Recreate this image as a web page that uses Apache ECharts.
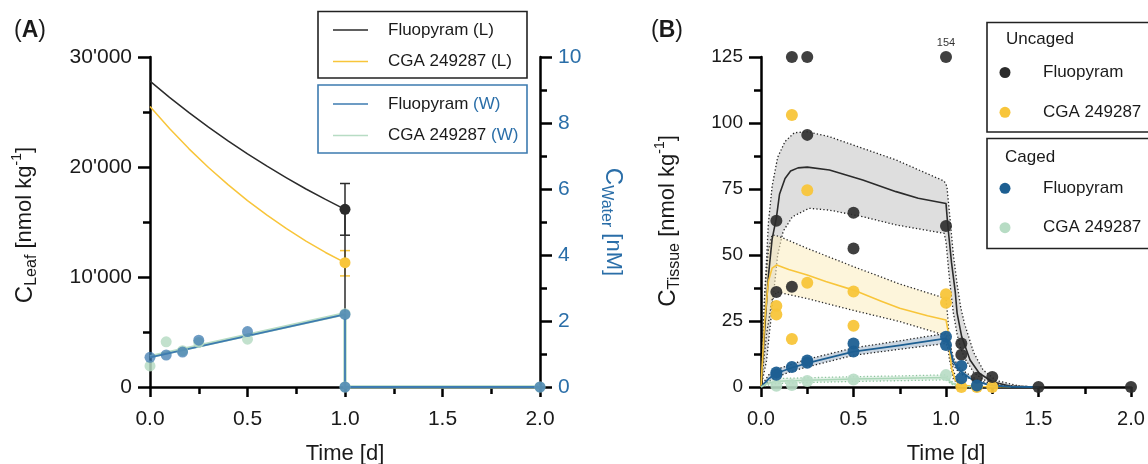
<!DOCTYPE html>
<html><head><meta charset="utf-8">
<script src="https://cdn.jsdelivr.net/npm/echarts@6/dist/echarts.min.js"></script>
<style>html,body{margin:0;padding:0;background:#fff}#c{width:1148px;height:464px}</style>
</head><body><div id="c"></div>
<script>
// ---------------- Panel A data ----------------
const leafFluoTime = [0, 0.1, 0.2, 0.3, 0.4, 0.5, 0.6, 0.7, 0.8, 0.9, 1.0, 1.0, 2.0];
const leafFluopyram = [27800, 26330, 24940, 23620, 22370, 21190, 20070, 19010, 18000, 17050, 16150, 0, 0];
const leafCGATime = [0, 0.1, 0.2, 0.3, 0.4, 0.5, 0.6, 0.7, 0.8, 0.9, 1.0];
const leafCGA = [25500, 23500, 21650, 19950, 18400, 16950, 15620, 14400, 13270, 12230, 11300];
const leafPointTime = [1.0];
const leafFluoMean = [16150];
const leafCGAMean = [11300];
const leafFluoErrLow = [13800];
const leafFluoErrHigh = [18500];
const leafCGAErrLow = [10100];
const leafCGAErrHigh = [12400];

const waterLineTime = [0, 1.0, 1.0, 2.0];
const waterFluoLine = [0.9, 2.2, 0, 0];
const waterCGALine = [0.92, 2.22, 0, 0];
const waterPtsTime = [0, 0.083, 0.167, 0.25, 0.5, 1.0, 1.0, 2.0];
const waterFluoPts = [0.9, 0.97, 1.06, 1.42, 1.68, 2.2, 0, 0];
const waterCGAPts = [0.64, 1.37, 1.1, 1.35, 1.45, 2.22, 0, 0];

const leafTicks = [0, 10000, 20000, 30000];

// ---------------- Panel B data ----------------
const uncFTime  = [0, 0.02, 0.04, 0.06, 0.083, 0.1, 0.13, 0.16, 0.2, 0.25, 0.37, 0.55, 0.73, 0.85, 1.0, 1.01, 1.03, 1.05, 1.06, 1.085, 1.13, 1.18, 1.25, 1.35, 1.5];
const uncFModel = [0, 22, 42, 56, 64, 73, 79, 81.8, 83, 83.3, 82.2, 78.4, 74, 71.5, 69.5, 61, 47, 36, 28, 19, 10.2, 5.2, 2, 0.3, 0];
const uncFUpTime = [0, 0.02, 0.04, 0.06, 0.09, 0.13, 0.18, 0.25, 0.37, 0.55, 0.73, 0.99, 1.005, 1.02, 1.04, 1.06, 1.08, 1.1, 1.15, 1.2, 1.27, 1.4, 1.5];
const uncFUpper  = [0, 35, 62, 76, 87, 93, 96.3, 96.7, 94.8, 90.4, 86, 78, 76, 65, 50, 39, 30, 24, 13, 6.5, 2.5, 0.3, 0];
const uncFLoTime = [0, 0.03, 0.06, 0.09, 0.12, 0.17, 0.26, 0.37, 0.55, 0.73, 0.99, 1.0, 1.02, 1.04, 1.06, 1.08, 1.1, 1.15, 1.2, 1.3, 1.4];
const uncFLower  = [0, 10, 30, 50, 59, 64.5, 67.7, 67, 64.5, 61.4, 58.2, 55, 40, 28, 20, 14.5, 11, 5.5, 2.8, 0.6, 0];

const uncCTime  = [0, 0.02, 0.04, 0.06, 0.085, 0.15, 0.25, 0.35, 0.5, 0.65, 0.75, 0.9, 1.0, 1.01, 1.02, 1.03, 1.05, 1.08, 1.15, 1.35];
const uncCModel = [0, 25, 40, 45, 46.2, 44.5, 42.4, 40, 36.7, 32.5, 29.8, 27, 25.4, 21.6, 14, 7, 2.5, 0.8, 0.2, 0];
const uncCUpTime = [0, 0.02, 0.04, 0.06, 0.1, 0.25, 0.5, 0.75, 1.0, 1.01, 1.02, 1.04, 1.07, 1.12, 1.3];
const uncCUpper  = [0, 35, 52, 57.6, 57, 52.5, 45.6, 39, 33.5, 26, 16, 6, 1.5, 0.3, 0];
const uncCLoTime = [0, 0.03, 0.06, 0.085, 0.25, 0.5, 0.75, 1.0, 1.01, 1.02, 1.04, 1.07, 1.12, 1.3];
const uncCLower  = [0, 20, 33, 36, 33.5, 29, 24.8, 19.5, 15, 10, 3, 0.8, 0.1, 0];

const cagFTime  = [0, 0.04, 0.083, 0.167, 0.25, 0.5, 0.75, 1.0, 1.02, 1.04, 1.07, 1.094, 1.13, 1.166, 1.25, 1.35, 1.5];
const cagFModel = [0, 3, 5.2, 7.3, 9, 13.4, 15.8, 18.4, 15, 9.6, 6.5, 5.2, 3.3, 2, 0.5, 0.1, 0];
const cagFBandTime = [0, 0.04, 0.083, 0.167, 0.25, 0.5, 0.75, 1.0, 1.02, 1.04, 1.07, 1.1, 1.15, 1.2, 1.3, 1.5];
const cagFUpper = [0, 4.5, 6.6, 8.7, 10.5, 14.8, 17.5, 20.3, 17, 11, 7.5, 5.8, 3.5, 2, 0.6, 0];
const cagFLower = [0, 2, 3.8, 6, 7.6, 12, 14.3, 16.5, 13, 8.2, 5.5, 4.2, 2.5, 1.4, 0.3, 0];

const cagCTime  = [0, 0.03, 0.083, 0.25, 0.5, 0.75, 1.0, 1.03, 1.06, 1.1, 1.2];
const cagCModel = [0, 1.2, 2.2, 2.6, 3, 3.3, 3.6, 1.5, 0.6, 0.2, 0];
const cagCUpper = [0, 2, 3.2, 3.5, 3.9, 4.2, 4.6, 2.2, 0.9, 0.3, 0];
const cagCLower = [0, 0.6, 1.3, 1.7, 2.1, 2.4, 2.7, 1, 0.4, 0.1, 0];

const uncFPtTime = [0.083, 0.083, 0.167, 0.167, 0.25, 0.25, 0.5, 0.5, 1.0, 1.0, 1.083, 1.083, 1.167, 1.25, 1.5, 2.0];
const uncFPts    = [63, 36, 125, 38, 125, 95.5, 66, 52.5, 125, 61, 16.5, 12.2, 3.5, 3.8, 0, 0];
const uncFOffscaleIndex = 8;
const uncFOffscaleText = '154';
const uncCPtTime = [0.083, 0.083, 0.167, 0.167, 0.25, 0.25, 0.5, 0.5, 1.0, 1.0, 1.083, 1.167, 1.25];
const uncCPts    = [30.7, 27.5, 103, 18.2, 74.5, 39.5, 36.2, 23.2, 35.1, 31.9, 0, 0, 0];
const cagFPtTime = [0.083, 0.083, 0.167, 0.25, 0.25, 0.5, 0.5, 1.0, 1.0, 1.083, 1.083, 1.167];
const cagFPts    = [5.5, 4.6, 7.6, 10, 9.2, 16.5, 13.4, 19, 15.9, 8, 3.3, 0.6];
const cagCPtTime = [0.083, 0.167, 0.25, 0.5, 1.0];
const cagCPts    = [0.5, 0.8, 2.3, 2.8, 4.5];

// ---------------- styling ----------------
const FONT = "'Liberation Sans', Arial, Helvetica, sans-serif";
const TXT = '#1a1a1a';
const BLACK = '#2b2b2b';
const YELLOW = '#f8c53a';
const BLUE_A = '#3d7bb0';
const GREEN = '#b7dcc4';
const BLUE_B = '#1d5f92';
const WATER_TXT = '#2a6ea8';

const pairs = (t, v) => t.map((x, i) => [x, v[i]]);

function xAxisDef(grid, fs) {
  return {
    gridIndex: grid, type: 'value', min: 0, max: 2, interval: 0.5,
    axisLine: { show: true, onZero: false, lineStyle: { color: '#000', width: 2.5 } },
    axisTick: { show: true, length: 10, lineStyle: { color: '#000', width: 2.5 } },
    minorTick: { show: true, splitNumber: 2, length: 7, lineStyle: { color: '#000', width: 2.5 } },
    splitLine: { show: false }, minorSplitLine: { show: false },
    axisLabel: { fontSize: fs, color: TXT, fontFamily: FONT, margin: 22, formatter: v => v.toFixed(1) },
    name: 'Time [d]', nameLocation: 'middle', nameGap: 56,
    nameTextStyle: { fontSize: 22, color: TXT, fontFamily: FONT }
  };
}
function yAxisDef(grid, min, max, interval, fs, color, pos, fmt) {
  return {
    gridIndex: grid, type: 'value', min, max, interval, position: pos,
    axisLine: { show: true, onZero: false, lineStyle: { color: '#000', width: 2.5 } },
    axisTick: { show: true, length: 12, lineStyle: { color: '#000', width: 2.5 } },
    minorTick: { show: true, splitNumber: 2, length: 7, lineStyle: { color: '#000', width: 2.5 } },
    splitLine: { show: false }, minorSplitLine: { show: false },
    axisLabel: { fontSize: fs, color, fontFamily: FONT, margin: 18, formatter: fmt }
  };
}

function band(xi, yi, upT, up, loT, lo, fill, stroke, z) {
  return {
    type: 'custom', xAxisIndex: xi, yAxisIndex: yi, silent: true, z,
    data: pairs(upT, up),
    renderItem: (params, api) => {
      if (params.dataIndex !== 0) return null;
      const pts = upT.map((t, i) => api.coord([t, up[i]]));
      for (let i = loT.length - 1; i >= 0; i--) pts.push(api.coord([loT[i], lo[i]]));
      return { type: 'polygon', shape: { points: pts },
        style: { fill, stroke, lineWidth: 1.3, lineDash: [1.3, 2.2] } };
    }
  };
}
function errBar(xi, yi, t, lo, hi, color) {
  return {
    type: 'custom', xAxisIndex: xi, yAxisIndex: yi, silent: true, z: 3,
    encode: { x: 0, y: [1, 2] },
    data: t.map((x, i) => [x, lo[i], hi[i]]),
    renderItem: (params, api) => {
      const a = api.coord([api.value(0), api.value(1)]);
      const b = api.coord([api.value(0), api.value(2)]);
      const cap = 5, st = { stroke: color, lineWidth: 1.5 };
      return { type: 'group', children: [
        { type: 'line', shape: { x1: a[0], y1: a[1], x2: b[0], y2: b[1] }, style: st },
        { type: 'line', shape: { x1: a[0] - cap, y1: a[1], x2: a[0] + cap, y2: a[1] }, style: st },
        { type: 'line', shape: { x1: b[0] - cap, y1: b[1], x2: b[0] + cap, y2: b[1] }, style: st }
      ] };
    }
  };
}
function line(xi, yi, t, v, color, w, z) {
  return { type: 'line', xAxisIndex: xi, yAxisIndex: yi, data: pairs(t, v), z: z || 3,
    symbol: 'none', showSymbol: false, smooth: false,
    lineStyle: { color, width: w, join: 'round' }, silent: true };
}
function pts(xi, yi, t, v, color, size, opacity, z) {
  return { type: 'scatter', xAxisIndex: xi, yAxisIndex: yi, data: pairs(t, v), z: z || 5,
    symbol: 'circle', symbolSize: size, silent: true, itemStyle: { color, opacity } };
}

// ---------------- graphics (legends, titles, panel letters) ----------------
const G = [];
function gText(x, y, text, style, rotation) {
  G.push({ type: 'text', x, y, rotation: rotation || 0, z: 100,
    style: Object.assign({ text, fill: TXT, fontSize: 17, fontFamily: FONT, align: 'left', verticalAlign: 'middle' }, style || {}) });
}
function gRect(x, y, w, h, stroke) {
  G.push({ type: 'rect', z: 99, shape: { x, y, width: w, height: h }, style: { fill: 'rgba(0,0,0,0)', stroke, lineWidth: 1.6 } });
}
function gLine(x1, y1, x2, y2, stroke, w) {
  G.push({ type: 'line', z: 100, shape: { x1, y1, x2, y2 }, style: { stroke, lineWidth: w } });
}
function gDot(cx, cy, fill) {
  G.push({ type: 'circle', z: 100, shape: { cx, cy, r: 5.5 }, style: { fill } });
}
const titleRich = (fill) => ({
  c: { fontSize: 24, lineHeight: 30, fontFamily: FONT, fill },
  s: { fontSize: 16, lineHeight: 16, verticalAlign: 'bottom', fontFamily: FONT, fill },
  n: { fontSize: 22, lineHeight: 30, fontFamily: FONT, fill },
  p: { fontSize: 14, lineHeight: 14, verticalAlign: 'top', fontFamily: FONT, fill }
});
const letterRich = { p: { fontSize: 23, fontFamily: FONT, fill: TXT }, b: { fontSize: 23, fontWeight: 'bold', fontFamily: FONT, fill: TXT } };
gText(14, 31, '{p|(}{b|A}{p|)}', { rich: letterRich });
gText(651, 31, '{p|(}{b|B}{p|)}', { rich: letterRich });
gText(25, 225, '{c|C}{s|Leaf}{n| [nmol kg}{p|-1}{n|]}', { align: 'center', rich: titleRich(TXT) }, Math.PI / 2);
gText(613, 222, '{c|C}{s|Water}{n| [nM]}', { align: 'center', rich: titleRich(WATER_TXT) }, -Math.PI / 2);
gText(668, 221, '{c|C}{s|Tissue}{n| [nmol kg}{p|-1}{n|]}', { align: 'center', rich: titleRich(TXT) }, Math.PI / 2);

// legend A
gRect(318, 11.5, 209, 66.5, '#222');
gLine(333, 30, 368, 30, BLACK, 1.5); gText(388, 30, 'Fluopyram (L)');
gLine(333, 61.5, 368, 61.5, YELLOW, 1.5); gText(388, 61.5, 'CGA 249287 (L)');
gRect(318, 85, 209, 68, BLUE_A);
const wRich = { n: { fontSize: 17, fontFamily: FONT, fill: TXT }, w: { fontSize: 17, fontFamily: FONT, fill: WATER_TXT } };
gLine(333, 104, 368, 104, BLUE_A, 1.5); gText(388, 104, '{n|Fluopyram }{w|(W)}', { rich: wRich });
gLine(333, 135.5, 368, 135.5, GREEN, 1.5); gText(388, 135.5, '{n|CGA 249287 }{w|(W)}', { rich: wRich });
// legend B
gRect(987, 22.5, 200, 109.5, '#222');
gText(1006, 39.5, 'Uncaged');
gDot(1005, 72.5, BLACK); gText(1043, 72.5, 'Fluopyram');
gDot(1005, 112.3, YELLOW); gText(1043, 112.3, 'CGA 249287');
gRect(987, 138.5, 200, 110, '#222');
gText(1005, 157, 'Caged');
gDot(1005, 188.3, BLUE_B); gText(1043, 188.3, 'Fluopyram');
gDot(1005, 227.7, GREEN); gText(1043, 227.7, 'CGA 249287');

// ---------------- option ----------------
const uncFData = pairs(uncFPtTime, uncFPts).map((p, i) => i === uncFOffscaleIndex
  ? { value: p, label: { show: true, formatter: uncFOffscaleText, position: 'top', distance: 3, fontSize: 11, color: TXT, fontFamily: FONT } }
  : p);

const option = {
  animation: false,
  backgroundColor: '#fff',
  grid: [
    { left: 150, top: 57, width: 390, height: 330, containLabel: false, outerBoundsMode: 'none' },
    { left: 761, top: 57, width: 370, height: 330, containLabel: false, outerBoundsMode: 'none' }
  ],
  xAxis: [xAxisDef(0, 21), xAxisDef(1, 20)],
  yAxis: [
    yAxisDef(0, 0, 30000, 10000, 21, TXT, 'left', v => leafTicks.includes(v) ? (v >= 1000 ? Math.floor(v / 1000) + "'000" : String(v)) : ''),
    yAxisDef(0, 0, 10, 2, 21, WATER_TXT, 'right', v => String(v)),
    yAxisDef(1, 0, 125, 25, 19, TXT, 'left', v => String(v))
  ],
  graphic: { elements: G },
  series: [
    // Panel A
    line(0, 0, leafCGATime, leafCGA, YELLOW, 1.5, 3),
    line(0, 0, leafFluoTime, leafFluopyram, BLACK, 1.5, 3),
    errBar(0, 0, leafPointTime, leafFluoErrLow, leafFluoErrHigh, BLACK),
    errBar(0, 0, leafPointTime, leafCGAErrLow, leafCGAErrHigh, YELLOW),
    pts(0, 0, leafPointTime, leafFluoMean, BLACK, 11, 1),
    pts(0, 0, leafPointTime, leafCGAMean, YELLOW, 11, 1),
    line(0, 1, waterLineTime, waterCGALine, GREEN, 3.5, 3),
    line(0, 1, waterLineTime, waterFluoLine, BLUE_A, 1.8, 3),
    pts(0, 1, waterPtsTime, waterCGAPts, GREEN, 11, 0.85),
    pts(0, 1, waterPtsTime, waterFluoPts, BLUE_A, 11, 0.75),
    // Panel B bands
    band(1, 2, uncFUpTime, uncFUpper, uncFLoTime, uncFLower, 'rgba(195,195,195,0.55)', '#222', 1),
    band(1, 2, uncCUpTime, uncCUpper, uncCLoTime, uncCLower, 'rgba(252,236,190,0.55)', '#2a2a2a', 1),
    band(1, 2, cagFBandTime, cagFUpper, cagFBandTime, cagFLower, 'rgba(160,180,200,0.55)', '#222', 1),
    band(1, 2, cagCTime, cagCUpper, cagCTime, cagCLower, 'rgba(200,230,210,0.5)', '#8cc49c', 1),
    // Panel B model lines
    line(1, 2, uncFTime, uncFModel, BLACK, 1.6, 3),
    line(1, 2, uncCTime, uncCModel, YELLOW, 1.6, 3),
    line(1, 2, cagFTime, cagFModel, BLUE_B, 1.8, 3),
    line(1, 2, cagCTime, cagCModel, '#a9d6b6', 1.5, 3),
    // Panel B points
    pts(1, 2, uncCPtTime, uncCPts, YELLOW, 12, 0.95, 5),
    { type: 'scatter', xAxisIndex: 1, yAxisIndex: 2, data: uncFData, z: 6, symbol: 'circle', symbolSize: 12, silent: true, itemStyle: { color: BLACK, opacity: 0.9 } },
    pts(1, 2, cagCPtTime, cagCPts, GREEN, 12, 0.9, 5),
    pts(1, 2, cagFPtTime, cagFPts, BLUE_B, 12, 0.95, 6)
  ]
};
const chart = echarts.init(document.getElementById('c'), null, { renderer: 'canvas' });
chart.setOption(option);
</script>
</body></html>
